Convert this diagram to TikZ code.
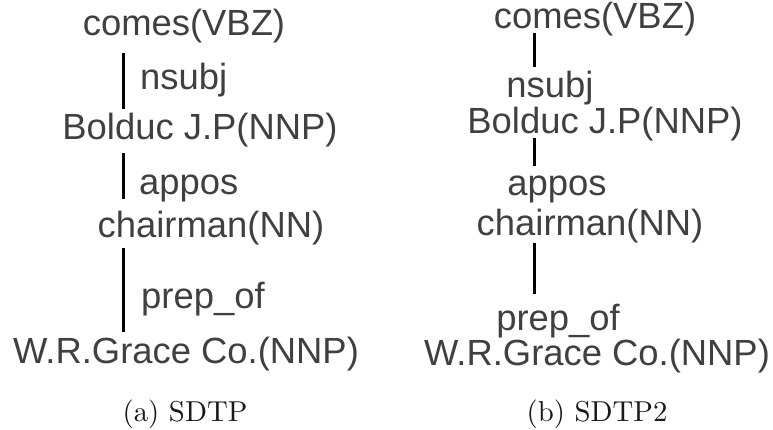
\documentclass[tikz,border=0pt]{standalone}
\usepackage{fontspec}
\setmainfont{Liberation Sans}
\newfontfamily\capfont{lmroman10-regular.otf}
\begin{document}
\begin{tikzpicture}[x=1pt,y=-1pt,
  word/.style={anchor=base,inner sep=0pt,text=wordgray,font=\fontsize{36.4}{40}\selectfont},
  rel/.style={anchor=base west,inner sep=0pt,text=wordgray,font=\fontsize{36.4}{40}\selectfont},
  relc/.style={anchor=base,inner sep=0pt,text=wordgray,font=\fontsize{36.4}{40}\selectfont},
  caption/.style={anchor=base,inner sep=0pt,text=black!90,font=\capfont\fontsize{28.8}{32}\selectfont},
  arc/.style={line width=3pt,black}]
\definecolor{wordgray}{HTML}{404040}
\useasboundingbox (0,0) rectangle (773,429);

% (a) SDTP
\node[word] (a1) at (184,35) {comes(VBZ)};
\node[rel]  (ra1) at (140,89) {nsubj};
\node[word] (a2) at (200,139) {Bolduc J.P(NNP)};
\node[rel]  (ra2) at (139,194) {appos};
\node[word] (a3) at (211,237) {chairman(NN)};
\node[rel]  (ra3) at (141,308) {prep\_of};
\node[word] (a4) at (186,363) {W.R.Grace Co.(NNP)};
\node[caption] (ca) at (185,421) {(a) SDTP};
\coordinate (a1s) at (123,53);  \coordinate (a2n) at (123,109);
\coordinate (a2s) at (123,153); \coordinate (a3n) at (123,199);
\coordinate (a3s) at (123,248); \coordinate (a4n) at (123,332);
\draw[arc] (a1s) -- (a2n);
\draw[arc] (a2s) -- (a3n);
\draw[arc] (a3s) -- (a4n);

% (b) SDTP2
\node[word] (b1) at (595,28) {comes(VBZ)};
\node[relc] (rb1) at (550,97) {nsubj};
\node[word] (b2) at (605,133) {Bolduc J.P(NNP)};
\node[relc] (rb2) at (557,195) {appos};
\node[word] (b3) at (590,235) {chairman(NN)};
\node[relc] (rb3) at (558,330) {prep\_of};
\node[word] (b4) at (597,365) {W.R.Grace Co.(NNP)};
\node[caption] (cb) at (597,421) {(b) SDTP2};
\coordinate (b1s) at (534,33);  \coordinate (b2n) at (534,67);
\coordinate (b2s) at (534,138); \coordinate (b3n) at (534,166);
\coordinate (b3s) at (534,243); \coordinate (b4n) at (534,294);
\draw[arc] (b1s) -- (b2n);
\draw[arc] (b2s) -- (b3n);
\draw[arc] (b3s) -- (b4n);
\end{tikzpicture}
\end{document}
